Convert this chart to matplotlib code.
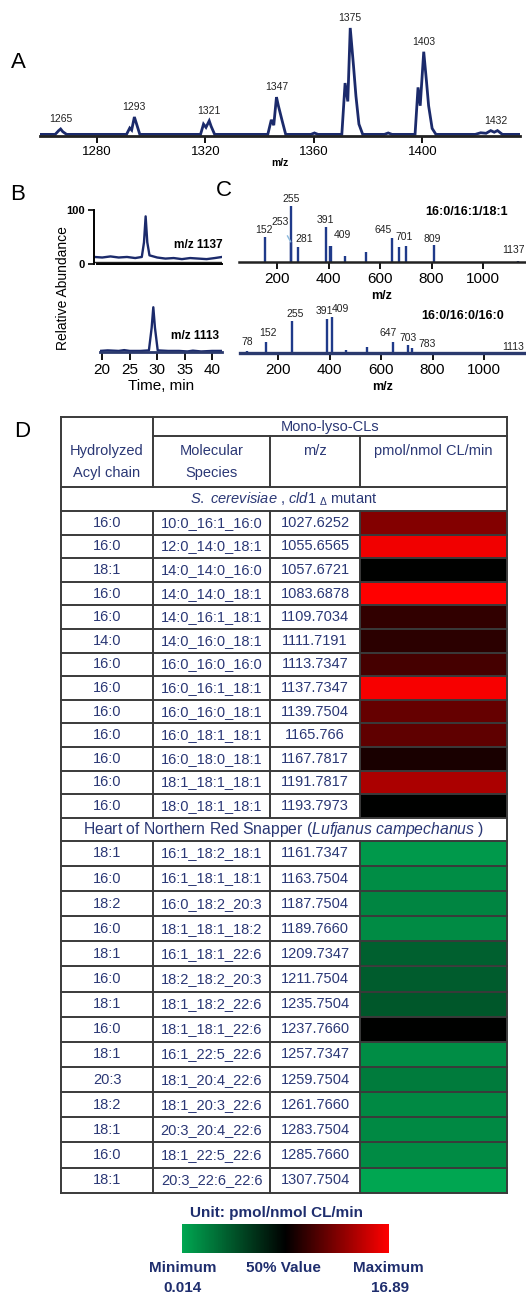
import matplotlib.pyplot as plt
from matplotlib.cm import ScalarMappable
from matplotlib.colors import LinearSegmentedColormap, Normalize
from matplotlib.patches import Rectangle

plt.rcParams['font.family'] = ['Liberation Sans', 'DejaVu Sans']
plt.rcParams['mathtext.fontset'] = 'custom'
plt.rcParams['mathtext.rm'] = 'Liberation Sans'
plt.rcParams['mathtext.it'] = 'Liberation Sans:italic'

W, H = 526, 1296
NAVY = '#1b2a6b'
STICK = '#1f3a8a'
TXT = '#2a3775'
GRID = '#3a3a3a'

# --- A: full MS scan of cardiolipin region (relative abundance, %)
A_MZ = [1259.0, 1264.6, 1265.9, 1266.6, 1267.4, 1268.8,
        1290.9, 1292.1, 1292.8, 1293.8, 1294.5, 1295.8,
        1318.2, 1319.3, 1320.2, 1321.4, 1322.1, 1323.4,
        1343.0, 1344.3, 1345.2, 1346.2, 1346.9, 1348.3, 1349.6,
        1358.9, 1360.2, 1361.5,
        1370.3, 1371.5, 1372.5, 1373.4, 1374.6, 1375.5, 1376.6, 1378.0,
        1386.0, 1387.4, 1388.8,
        1397.3, 1398.4, 1399.2, 1400.5, 1401.5, 1402.3, 1403.6, 1405.0,
        1419.5, 1421.5, 1423.5, 1425.2, 1426.5, 1427.7, 1429.5, 1436.0]
A_INT = [1.5, 1.5, 5.0, 6.5, 4.0, 1.5,
         1.5, 7.4, 5.5, 17.6, 12.0, 1.5,
         1.5, 11.0, 8.0, 14.0, 9.0, 1.5,
         1.5, 15.0, 10.0, 36.0, 28.0, 14.0, 1.5,
         1.5, 2.8, 1.5,
         1.5, 49.0, 32.0, 100.0, 65.0, 37.0, 11.0, 1.5,
         1.5, 2.8, 1.5,
         1.5, 45.0, 28.0, 78.0, 51.0, 28.0, 7.0, 1.5,
         1.5, 3.0, 2.5, 5.0, 3.5, 5.0, 1.5, 1.5]
A_LABELS = ['1265', '1293', '1321', '1347', '1375', '1403', '1432']
A_LABEL_MZ = [1266.6, 1293.8, 1321.4, 1346.2, 1373.4, 1400.5, 1427.0]

# --- B: extracted ion chromatograms
B1_T = [18.6, 20.0, 21.5, 23.0, 24.5, 26.0, 27.2, 27.6, 27.9, 28.2, 28.6,
        30.0, 31.5, 33.0, 34.5, 36.0, 37.5, 39.0, 40.5, 41.8]
B1_I = [13, 12, 14, 12, 13, 11, 13, 40, 88, 40, 16,
        12, 10, 11, 9, 11, 10, 9, 11, 13]
B2_T = [19.6, 21.0, 23.0, 24.0, 25.0, 27.0, 28.5, 29.0, 29.3, 29.6, 30.1,
        32.0, 34.0, 35.5, 36.5, 38.0, 40.0, 41.8]
B2_I = [2, 3, 2, 3.5, 2, 2, 3, 45, 83, 45, 3,
        2, 2, 1, 2.5, 1, 2, 2]

# --- C: MS/MS product ions
C1_MZ = [152, 253, 255, 281, 391, 407, 409, 465, 545, 645, 673, 701, 809, 1137]
C1_INT = [45, 36, 100, 27, 62, 28, 28, 11, 18, 43, 27, 29, 30, 2]
C1_LABELS = ['152', '255', '281', '391', '409', '645', '701', '809', '1137']
C1_LABEL_OFFSETS = [(-1, 7), (0, 7), (6, 8), (-1, 7), (12, 11), (-9, 8), (-2, 9), (-2, 6), (-5, 11)]
C2_MZ = [78, 152, 255, 391, 409, 465, 545, 647, 703, 721, 783, 1113]
C2_INT = [5.5, 30, 89, 94, 100, 8, 17, 30, 22, 14, 3, 3]
C2_LABELS = ['78', '152', '255', '391', '409', '647', '703', '783', '1113']
C2_LABEL_OFFSETS = [(1, 9), (2, 9), (3, 7), (-3, 8), (9, 8), (-5, 9), (0, 7), (-1, 8), (0, 5)]

# --- D: mono-lyso-CL formation rates (pmol/nmol CL/min)
ACYL_YEAST = ['16:0', '16:0', '18:1', '16:0', '16:0', '14:0', '16:0',
              '16:0', '16:0', '16:0', '16:0', '16:0', '16:0']
SPECIES_YEAST = ['10:0_16:1_16:0', '12:0_14:0_18:1', '14:0_14:0_16:0', '14:0_14:0_18:1',
                 '14:0_16:1_18:1', '14:0_16:0_18:1', '16:0_16:0_16:0', '16:0_16:1_18:1',
                 '16:0_16:0_18:1', '16:0_18:1_18:1', '16:0_18:0_18:1', '18:1_18:1_18:1',
                 '18:0_18:1_18:1']
MZ_YEAST = ['1027.6252', '1055.6565', '1057.6721', '1083.6878', '1109.7034', '1111.7191',
            '1113.7347', '1137.7347', '1139.7504', '1165.766', '1167.7817', '1191.7817',
            '1193.7973']
RATE_YEAST = [12.8, 16.4, 8.4, 16.89, 10.1, 9.9, 10.7, 16.6, 11.8, 11.6, 9.3, 14.1, 8.4]

ACYL_FISH = ['18:1', '16:0', '18:2', '16:0', '18:1', '16:0', '18:1',
             '16:0', '18:1', '20:3', '18:2', '18:1', '16:0', '18:1']
SPECIES_FISH = ['16:1_18:2_18:1', '16:1_18:1_18:1', '16:0_18:2_20:3', '18:1_18:1_18:2',
                '16:1_18:1_22:6', '18:2_18:2_20:3', '18:1_18:2_22:6', '18:1_18:1_22:6',
                '16:1_22:5_22:6', '18:1_20:4_22:6', '18:1_20:3_22:6', '20:3_20:4_22:6',
                '18:1_22:5_22:6', '20:3_22:6_22:6']
MZ_FISH = ['1161.7347', '1163.7504', '1187.7504', '1189.7660', '1209.7347', '1211.7504',
           '1235.7504', '1237.7660', '1257.7347', '1259.7504', '1261.7660', '1283.7504',
           '1285.7660', '1307.7504']
RATE_FISH = [0.7, 1.3, 1.7, 1.4, 3.6, 3.8, 4.1, 8.4, 1.3, 2.2, 1.5, 1.5, 1.4, 0.05]

RATE_MIN, RATE_MAX = 0.014, 16.89


def add_px_axes(fig, left, top, right, bottom):
    return fig.add_axes([left / W, 1 - bottom / H, (right - left) / W, (bottom - top) / H])


def px_text(fig, x, y, s, **kw):
    kw.setdefault('ha', 'center')
    kw.setdefault('va', 'center')
    fig.text(x / W, 1 - y / H, s, **kw)


def only_bottom(ax, lw=1.8, color='#222222'):
    for side in ('top', 'left', 'right'):
        ax.spines[side].set_visible(False)
    ax.spines['bottom'].set_linewidth(lw)
    ax.spines['bottom'].set_color(color)
    ax.set_yticks([])
    ax.patch.set_visible(False)


def stick_panel(ax, mz, inten, labels, offsets, ymax):
    ax.vlines(mz, 0, inten, color=STICK, lw=1.7)
    ax.set_xlim(52, 1163)
    ax.set_ylim(0, ymax)
    only_bottom(ax)
    ax.set_xticks([200, 400, 600, 800, 1000])
    ax.tick_params(axis='x', direction='out', length=5, width=1.3, labelsize=11, pad=2)
    for lab, (dx, dy) in zip(labels, offsets):
        v = int(lab)
        top = max(h for m, h in zip(mz, inten) if m == v)
        ax.annotate(lab, (v, top), xytext=(dx, dy), textcoords='offset pixels',
                    ha='center', va='center', fontsize=7.5, color='#222222')


fig = plt.figure(figsize=(W / 100, H / 100), dpi=100)

# A
ax_a = add_px_axes(fig, 40, 15, 520, 136)
ax_a.plot(A_MZ, A_INT, color=NAVY, lw=2.0, solid_joinstyle='miter')
ax_a.set_xlim(1259, 1436)
ax_a.set_ylim(0, 112)
only_bottom(ax_a, lw=2.0)
ax_a.set_xticks([1280, 1320, 1360, 1400])
ax_a.tick_params(axis='x', direction='out', length=5, width=1.3, labelsize=9.5, pad=2)
ax_a.set_xlabel('m/z', fontsize=7.5, fontweight='bold', labelpad=0)
for lab, mz in zip(A_LABELS, A_LABEL_MZ):
    top = max(h for m, h in zip(A_MZ, A_INT) if abs(m - mz) < 2.5)
    ax_a.annotate(lab, (mz, top), xytext=(0, 10), textcoords='offset pixels',
                  ha='center', va='center', fontsize=7.5, color='#222222')

# B
ax_b1 = add_px_axes(fig, 94, 205, 222, 264)
ax_b1.plot(B1_T, B1_I, color=NAVY, lw=1.7)
ax_b1.axhline(3.5, color='#222222', lw=1.0)
ax_b1.set_xlim(18.5, 41.8)
ax_b1.set_ylim(0, 109)
for side in ('top', 'right'):
    ax_b1.spines[side].set_visible(False)
ax_b1.spines['left'].set_bounds(0, 100)
ax_b1.spines['bottom'].set_bounds(19.0, 41.8)
ax_b1.spines['left'].set_linewidth(1.4)
ax_b1.spines['bottom'].set_linewidth(1.4)
ax_b1.set_xticks([])
ax_b1.set_yticks([0, 100])
ax_b1.tick_params(axis='y', direction='out', length=4.5, width=1.2, labelsize=8, pad=2)
for t in ax_b1.get_yticklabels():
    t.set_fontweight('bold')
ax_b1.patch.set_visible(False)
ax_b1.text(37.4, 35, 'm/z 1137', ha='center', va='center', fontsize=8.6, fontweight='bold')

ax_b2 = add_px_axes(fig, 100, 290, 222, 352)
ax_b2.plot(B2_T, B2_I, color=NAVY, lw=1.7)
ax_b2.set_xlim(19.6, 41.8)
ax_b2.set_ylim(0, 115)
only_bottom(ax_b2, lw=2.0, color='#2b3a6e')
ax_b2.set_xticks([20, 25, 30, 35, 40])
ax_b2.tick_params(axis='x', direction='out', length=6, width=1.3, labelsize=11, pad=2)
ax_b2.set_xlabel('Time, min', fontsize=11, labelpad=1)
ax_b2.text(36.9, 30, 'm/z 1113', ha='center', va='center', fontsize=8.6, fontweight='bold')

px_text(fig, 63, 288, 'Relative Abundance', rotation=90, fontsize=10)

# C
ax_c1 = add_px_axes(fig, 239, 195, 525, 262)
stick_panel(ax_c1, C1_MZ, C1_INT, C1_LABELS, C1_LABEL_OFFSETS, 120)
ax_c1.set_xlabel('m/z', fontsize=9, fontweight='bold', labelpad=3)
ax_c1.annotate('253', (253, 36), xytext=(-11, 20), textcoords='offset pixels',
               ha='center', va='center', fontsize=7.5, color='#222222',
               arrowprops=dict(arrowstyle='-', color='#8ab8dd', lw=1.0, shrinkA=5, shrinkB=0))
px_text(fig, 467, 212, '16:0/16:1/18:1', fontsize=9, fontweight='bold')

ax_c2 = add_px_axes(fig, 240, 300, 526, 353)
stick_panel(ax_c2, C2_MZ, C2_INT, C2_LABELS, C2_LABEL_OFFSETS, 147)
ax_c2.spines['bottom'].set_color('#2b3a6e')
ax_c2.spines['bottom'].set_linewidth(2.4)
ax_c2.set_xlabel('m/z', fontsize=9, fontweight='bold', labelpad=3)
px_text(fig, 463, 316, '16:0/16:0/16:0', fontsize=9, fontweight='bold')

# D: table with heat-coloured rate column
cmap = LinearSegmentedColormap.from_list('gbr', ['#00a651', '#000000', '#ff0000'])
norm = Normalize(RATE_MIN, RATE_MAX)

tab = fig.add_axes([0, 0, 1, 1])
tab.set_xlim(0, W)
tab.set_ylim(H, 0)
tab.axis('off')

cols = [61, 153, 270, 360, 507]
centers = [(a + b) / 2 for a, b in zip(cols[:-1], cols[1:])]
top, head1, head2, sp1 = 417, 436, 487, 511
lkw = dict(color=GRID, lw=1.4)
fs = 10.5


def hline(y, x0=cols[0], x1=cols[-1]):
    tab.plot([x0, x1], [y, y], **lkw)


def vline(x, y0, y1):
    tab.plot([x, x], [y0, y1], **lkw)


def data_rows(y0, row_h, acyl, species, mzs, rates):
    for i, (a, s, m, r) in enumerate(zip(acyl, species, mzs, rates)):
        y = y0 + i * row_h
        tab.add_patch(Rectangle((cols[3], y), cols[4] - cols[3], row_h,
                                facecolor=cmap(norm(r)), edgecolor='none'))
        yc = y + row_h / 2
        for x, t in zip(centers[:3], (a, s, m)):
            tab.text(x, yc, t, ha='center', va='center', fontsize=fs, color=TXT)
        hline(y + row_h)
    for x in cols:
        vline(x, y0, y0 + row_h * len(acyl))
    return y0 + row_h * len(acyl)


hline(top)
hline(head1, cols[1])
hline(head2)
hline(sp1)
vline(cols[0], top, sp1)
vline(cols[-1], top, sp1)
vline(cols[1], top, head2)
vline(cols[2], head1, head2)
vline(cols[3], head1, head2)
tab.text((cols[1] + cols[-1]) / 2, (top + head1) / 2, 'Mono-lyso-CLs',
         ha='center', va='center', fontsize=fs, color=TXT)
tab.text(centers[0], 451, 'Hydrolyzed', ha='center', va='center', fontsize=fs, color=TXT)
tab.text(centers[0], 473, 'Acyl chain', ha='center', va='center', fontsize=fs, color=TXT)
tab.text(centers[1], 451, 'Molecular', ha='center', va='center', fontsize=fs, color=TXT)
tab.text(centers[1], 473, 'Species', ha='center', va='center', fontsize=fs, color=TXT)
tab.text(centers[2], 451, 'm/z', ha='center', va='center', fontsize=fs, color=TXT)
tab.text(centers[3], 451, 'pmol/nmol CL/min', ha='center', va='center', fontsize=fs, color=TXT)
tab.text((cols[0] + cols[-1]) / 2, (head2 + sp1) / 2,
         r'$\mathit{S.\ cerevisiae}$ , $\mathit{cld1}$ $_{\Delta}$ mutant',
         ha='center', va='center', fontsize=fs, color=TXT)

y_end = data_rows(sp1, 23.6, ACYL_YEAST, SPECIES_YEAST, MZ_YEAST, RATE_YEAST)
heart_bottom = y_end + 23
vline(cols[0], y_end, heart_bottom)
vline(cols[-1], y_end, heart_bottom)
hline(heart_bottom)
tab.text((cols[0] + cols[-1]) / 2, (y_end + heart_bottom) / 2,
         r'Heart of Northern Red Snapper ($\mathit{Lufjanus\ campechanus}$ )',
         ha='center', va='center', fontsize=11.3, color=TXT)
data_rows(heart_bottom, 25.14, ACYL_FISH, SPECIES_FISH, MZ_FISH, RATE_FISH)

# colour scale
cax = add_px_axes(fig, 182, 1224, 389, 1253)
cb = fig.colorbar(ScalarMappable(norm=norm, cmap=cmap), cax=cax, orientation='horizontal')
cb.set_ticks([])
cb.outline.set_visible(False)
lab_kw = dict(fontsize=11, fontweight='bold', color='#1f2e6e')
px_text(fig, 277, 1213, 'Unit: pmol/nmol CL/min', **lab_kw)
px_text(fig, 183, 1268, 'Minimum', **lab_kw)
px_text(fig, 183, 1288, f'{RATE_MIN}', **lab_kw)
px_text(fig, 283, 1268, '50% Value', **lab_kw)
px_text(fig, 388, 1268, 'Maximum', **lab_kw)
px_text(fig, 390, 1288, f'{RATE_MAX}', **lab_kw)

# panel letters
for letter, x, y in (('A', 18, 62), ('B', 18, 194), ('C', 224, 190), ('D', 22, 432)):
    px_text(fig, x, y, letter, fontsize=16)

fig.savefig('out.png', dpi=100)
